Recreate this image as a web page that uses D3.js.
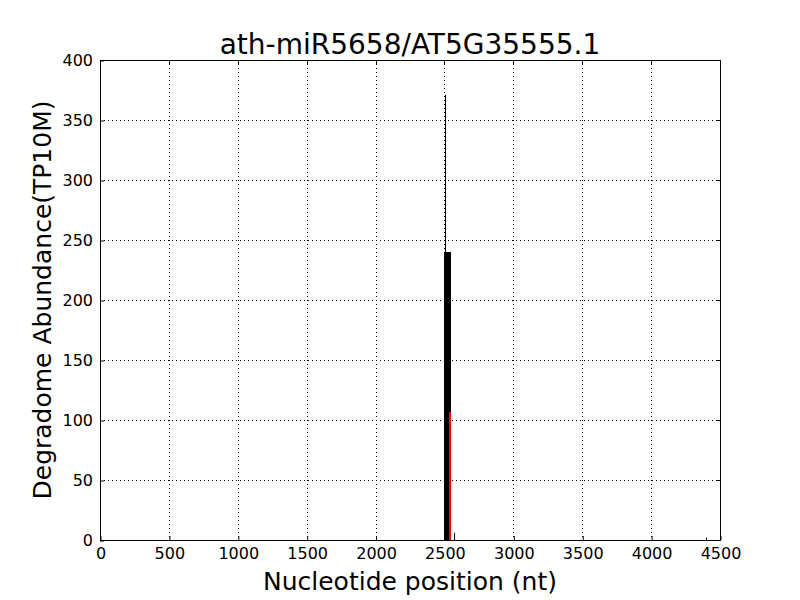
<!DOCTYPE html>
<html>
<head>
<meta charset="utf-8">
<script src="https://cdn.jsdelivr.net/npm/d3@7"></script>
<style>
  body { margin: 0; background: #fff; }
  text { font-family: "DejaVu Sans", sans-serif; }
</style>
</head>
<body>
<svg id="chart" width="800" height="600"></svg>
<script>
// degradome reads (position in nt, abundance in TP10M)
const blockStart = [2497];
const blockEnd = [2548];
const blockValue = [240];
const peakPos = [2501, 2569, 4395];
const peakValue = [371, 6, 2];
const targetPos = [2537];
const targetValue = [107];
const xTicks = [0, 500, 1000, 1500, 2000, 2500, 3000, 3500, 4000, 4500];
const yTicks = [0, 50, 100, 150, 200, 250, 300, 350, 400];

const margin = {top: 60, right: 80, bottom: 60, left: 100};
const width = 800;
const height = 600;

const svg = d3.select('#chart');

const x = d3.scaleLinear().domain([0, 4500]).range([margin.left, width - margin.right]);
const y = d3.scaleLinear().domain([0, 400]).range([height - margin.bottom, margin.top]);

// grid
svg.append('g').selectAll('line')
    .data(xTicks.slice(1, -1))
    .enter().append('line')
    .attr('x1', (d) => Math.round(x(d)) + 0.5).attr('x2', (d) => Math.round(x(d)) + 0.5)
    .attr('y1', y(400)).attr('y2', y(0))
    .attr('stroke', '#000').attr('stroke-width', 1)
    .attr('stroke-dasharray', '1,3');
svg.append('g').selectAll('line')
    .data(yTicks.slice(1, -1))
    .enter().append('line')
    .attr('x1', x(0)).attr('x2', x(4500))
    .attr('y1', (d) => Math.round(y(d)) + 0.5).attr('y2', (d) => Math.round(y(d)) + 0.5)
    .attr('stroke', '#000').attr('stroke-width', 1)
    .attr('stroke-dasharray', '1,3');

// bars
svg.append('g').selectAll('rect')
    .data(blockValue)
    .enter().append('rect')
    .attr('x', (d, i) => Math.round(x(blockStart[i])))
    .attr('width', (d, i) => Math.round(x(blockEnd[i])) - Math.round(x(blockStart[i])))
    .attr('y', (d) => Math.round(y(d)))
    .attr('height', (d) => y(0) - Math.round(y(d)))
    .attr('fill', '#000');

svg.append('g').selectAll('line')
    .data(peakValue)
    .enter().append('line')
    .attr('x1', (d, i) => Math.round(x(peakPos[i])) + 0.5)
    .attr('x2', (d, i) => Math.round(x(peakPos[i])) + 0.5)
    .attr('y1', y(0)).attr('y2', (d) => y(d))
    .attr('stroke', '#000').attr('stroke-width', 1);

svg.append('g').selectAll('rect')
    .data(targetValue)
    .enter().append('rect')
    .attr('x', (d, i) => Math.round(x(targetPos[i])) - 1)
    .attr('width', 2)
    .attr('y', (d) => Math.round(y(d)))
    .attr('height', (d) => y(0) - Math.round(y(d)))
    .attr('fill', '#ff0000');

// frame
svg.append('rect')
    .attr('x', x(0) + 0.5).attr('y', y(400) + 0.5)
    .attr('width', x(4500) - x(0)).attr('height', y(0) - y(400))
    .attr('fill', 'none').attr('stroke', '#000').attr('stroke-width', 1);

// axes, ticks pointing inward
const xAxis = d3.axisBottom(x).tickValues(xTicks).tickSize(-4).tickPadding(7).tickFormat(d3.format('d'));
const yAxis = d3.axisLeft(y).tickValues(yTicks).tickSize(-4).tickPadding(7).tickFormat(d3.format('d'));

const gx = svg.append('g').attr('transform', `translate(0.5,${y(0)})`).call(xAxis);
const gy = svg.append('g').attr('transform', `translate(${x(0)},0.5)`).call(yAxis);
[gx, gy].forEach((g) => {
  g.select('.domain').remove();
  g.selectAll('text').attr('font-size', 16).attr('fill', '#000')
      .style('font-family', '"DejaVu Sans", sans-serif');
});
gx.selectAll('text').attr('dy', '0.75em');

// top / right ticks
svg.append('g').selectAll('line')
    .data(xTicks)
    .enter().append('line')
    .attr('x1', (d) => Math.round(x(d)) + 0.5).attr('x2', (d) => Math.round(x(d)) + 0.5)
    .attr('y1', y(400)).attr('y2', y(400) + 4)
    .attr('stroke', '#000');
svg.append('g').selectAll('line')
    .data(yTicks)
    .enter().append('line')
    .attr('x1', x(4500)).attr('x2', x(4500) - 4)
    .attr('y1', (d) => Math.round(y(d)) + 0.5).attr('y2', (d) => Math.round(y(d)) + 0.5)
    .attr('stroke', '#000');

// labels
svg.append('text')
    .attr('x', (x(0) + x(4500)) / 2).attr('y', 54)
    .attr('text-anchor', 'middle').attr('font-size', 28)
    .text('ath-miR5658/AT5G35555.1');

svg.append('text')
    .attr('x', (x(0) + x(4500)) / 2).attr('y', 590)
    .attr('text-anchor', 'middle').attr('font-size', 25)
    .text('Nucleotide position (nt)');

svg.append('text')
    .attr('transform', `translate(51,${(y(0) + y(400)) / 2}) rotate(-90)`)
    .attr('text-anchor', 'middle').attr('font-size', 25)
    .text('Degradome Abundance(TP10M)');
</script>
</body>
</html>
